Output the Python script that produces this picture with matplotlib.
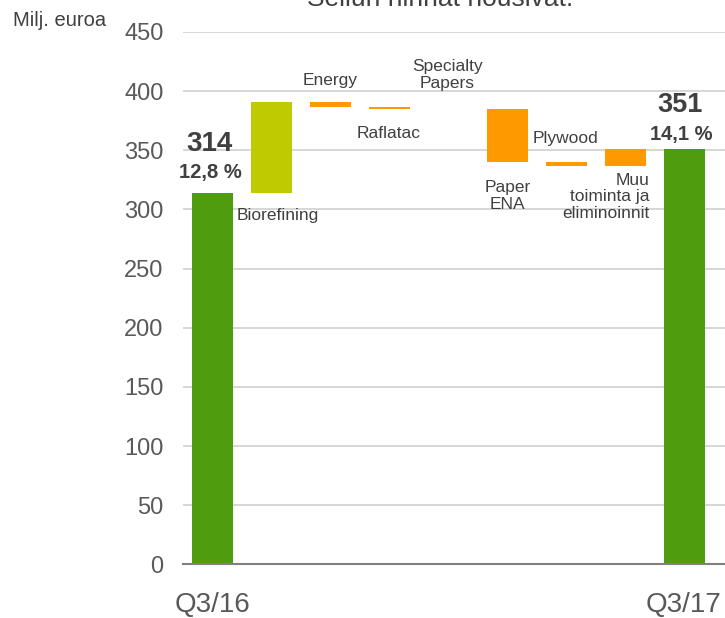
import matplotlib
matplotlib.use("Agg")
import matplotlib.pyplot as plt

plt.rcParams['font.family'] = ['Liberation Sans', 'DejaVu Sans']

categories = ["Q3/16", "Biorefining", "Energy", "Raflatac", "Specialty\nPapers",
              "Paper\nENA", "Plywood", "Muu\ntoiminta ja\neliminoinnit", "Q3/17"]
start_value = 314
changes = [77, -4, -2, 0, -45, -3, 14]
end_value = 351
start_margin = "12,8 %"
end_margin = "14,1 %"
xtick_labels = ["Q3/16", "Q3/17"]
yticks = [0, 50, 100, 150, 200, 250, 300, 350, 400, 450]

DARK_GREEN = "#4F9D0E"
LIGHT_GREEN = "#BFCB00"
ORANGE = "#FF9900"
TEXT = "#404040"

W, H = 725, 618
fig = plt.figure(figsize=(W / 100, H / 100), dpi=100)
ax = fig.add_axes([183 / W, (H - 564.3) / H, 1 - 183 / W, 532.3 / H])

bw = 0.68
n = len(categories)
# start bar
ax.bar(0, start_value, width=bw, color=DARK_GREEN, zorder=3)
level = start_value
for i, ch in enumerate(changes, start=1):
    col = LIGHT_GREEN if i == 1 else ORANGE
    bottom = level if ch >= 0 else level + ch
    h = abs(ch)
    if h == 0:
        h = 0.0001
    ax.bar(i, h, bottom=bottom, width=bw, color=col, zorder=3)
    level += ch
ax.bar(n - 1, end_value, width=bw, color=DARK_GREEN, zorder=3)

ax.set_ylim(0, 450)
ax.set_xlim(-0.5, -0.5 + 542 / 59)
ax.set_yticks(yticks)
ax.set_yticklabels([str(v) for v in yticks], fontsize=17, color="#595959")
ax.tick_params(axis='y', length=0, pad=14)
ax.set_xticks([])
ax.grid(axis='y', color="#D0D0D0", linewidth=1.2, zorder=0)
for s in ["top", "right", "left"]:
    ax.spines[s].set_visible(False)
ax.spines["bottom"].set_color("#808080")
ax.spines["bottom"].set_linewidth(1.5)
ax.spines["bottom"].set_zorder(4)

# x labels for totals
ax.text(0, -23.5, xtick_labels[0], ha='center', va='top', fontsize=20, color="#595959")
ax.text(8.62, -23.5, xtick_labels[1], ha='right', va='top', fontsize=20,
        color="#595959")

# value labels
ax.text(-0.05, 355.7, str(start_value), ha='center', va='center', fontsize=20,
        fontweight='bold', color=TEXT)
ax.text(-0.03, 331.6, start_margin, ha='center', va='center', fontsize=14.5,
        fontweight='bold', color=TEXT)
ax.text(7.92, 388.2, str(end_value), ha='center', va='center', fontsize=19.5,
        fontweight='bold', color=TEXT)
ax.text(7.95, 363.3, end_margin, ha='center', va='center', fontsize=14.5,
        fontweight='bold', color=TEXT)

# category labels
lab_fs = 12.5
ax.text(1.10, 294.6, categories[1], ha='center', va='center', fontsize=lab_fs, color=TEXT)
ax.text(2.0, 408.7, categories[2], ha='center', va='center', fontsize=lab_fs, color=TEXT)
ax.text(2.98, 364.6, categories[3], ha='center', va='center', fontsize=lab_fs, color=TEXT)
ax.text(3.98, 413.7, categories[4], ha='center', va='center', fontsize=lab_fs, color=TEXT,
        linespacing=1.15)
ax.text(5.0, 311.3, categories[5], ha='center', va='center', fontsize=lab_fs, color=TEXT,
        linespacing=1.15)
ax.text(5.98, 360.3, categories[6], ha='center', va='center', fontsize=lab_fs, color=TEXT)
ax.text(7.41, 310.6, categories[7], ha='right', va='center', fontsize=lab_fs, color=TEXT,
        linespacing=1.15, multialignment='right')

fig.text(13 / W, 1 - 25.7 / H, "Milj. euroa", ha='left', va='baseline', fontsize=14.5,
         color=TEXT)
fig.text(307 / W, 1 - 5.5 / H, "Sellun hinnat nousivat.", ha='left', va='baseline',
         fontsize=19, color=TEXT)

fig.savefig("out.png", dpi=100)
